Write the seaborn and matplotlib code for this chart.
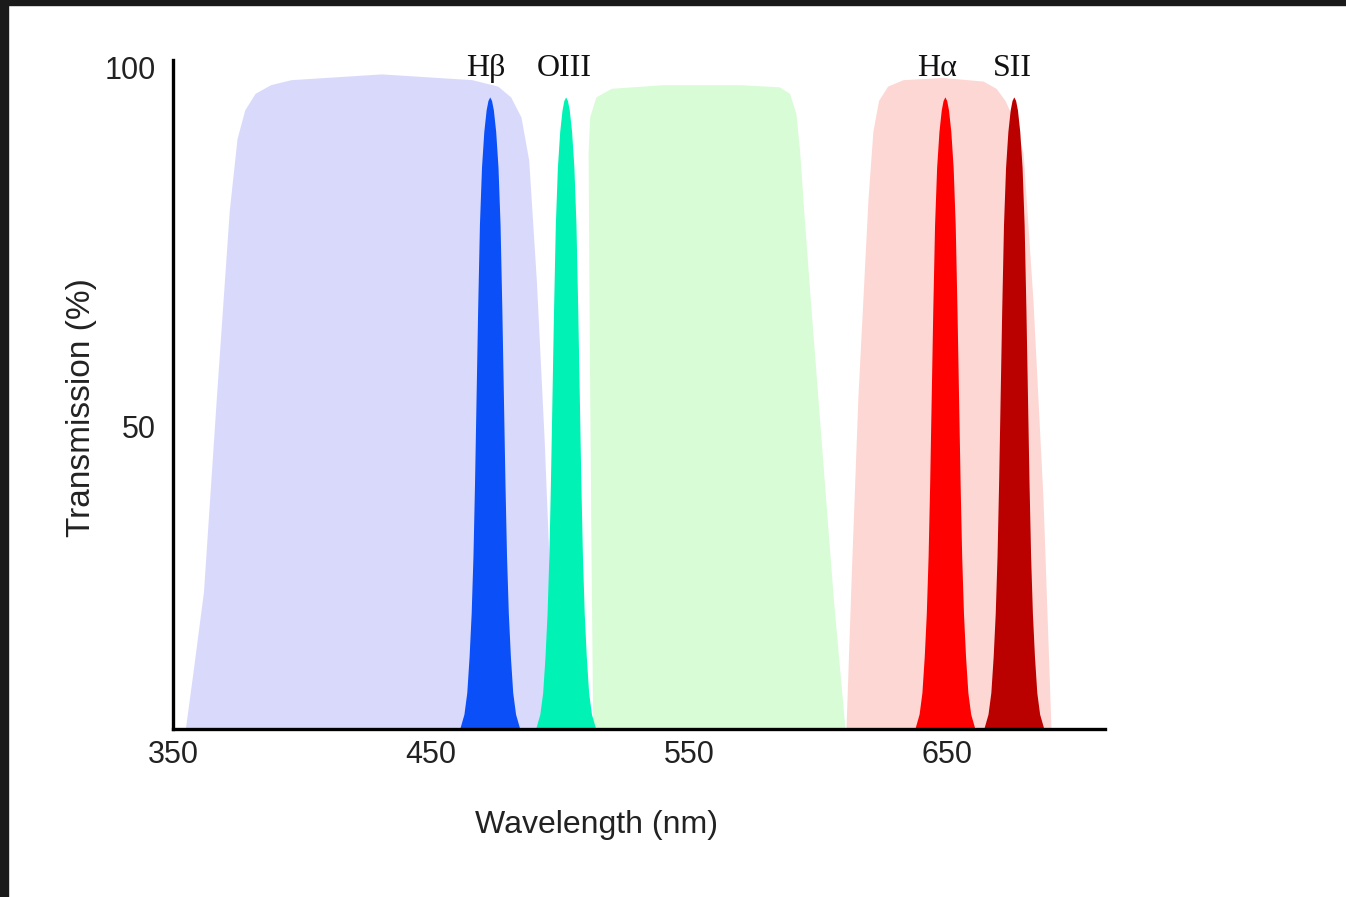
import matplotlib
matplotlib.use("Agg")
import matplotlib.pyplot as plt
import seaborn as sns
from matplotlib.patches import Rectangle

# broad filter bands (outline traced bottom-left -> top -> bottom-right)
blue_nm = [355, 358, 362, 367, 372, 375, 378, 382, 388, 396, 431, 466, 476, 481, 485, 488, 491, 494, 496, 498]
blue_t = [8, 16, 27, 54, 80, 90, 94, 96.3, 97.5, 98.2, 99, 98.2, 97.3, 95.8, 93, 87, 70, 48, 30, 8]

green_nm = [512.8, 512.2, 511.5, 511.0, 511.6, 514, 520, 540, 570, 585, 589, 591.5, 593, 594.5, 597, 600, 603, 606, 610.5]
green_t = [8, 30, 60, 88, 93, 95.8, 97, 97.5, 97.5, 97.2, 96.3, 93.5, 88, 80, 68, 54, 40, 26, 8]

red_nm = [610.9, 613, 615.5, 619.4, 621.3, 623.5, 627, 633, 648.4, 664, 669, 672.5, 676, 679.5, 683.3, 687.2, 690.3]
red_t = [8, 30, 54, 81.5, 91, 95.3, 97.3, 98.2, 98.5, 98, 97, 95.3, 92.5, 88, 67.6, 40, 8]

# narrowband lines
peak_t = [8, 10, 13, 18, 24, 32, 42, 54, 66, 78, 86, 91, 94, 95.3, 95.8,
          95.3, 94, 91, 86, 78, 66, 54, 42, 32, 24, 18, 13, 10, 8]
hb_nm = [461.3, 462.9, 464.0, 464.9, 465.7, 466.4, 467.0, 467.6, 468.2, 468.9, 469.7, 470.6, 471.5, 472.2, 472.9,
         473.6, 474.3, 475.2, 476.1, 476.9, 477.6, 478.2, 478.8, 479.4, 480.1, 480.9, 481.8, 482.9, 484.5]
oiii_nm = [490.7, 492.3, 493.4, 494.3, 495.1, 495.8, 496.4, 497.0, 497.6, 498.3, 499.1, 500.0, 500.9, 501.6, 502.3,
           503.0, 503.7, 504.6, 505.5, 506.3, 507.0, 507.6, 508.2, 508.8, 509.5, 510.3, 511.2, 512.3, 513.9]
ha_nm = [637.6, 639.2, 640.3, 641.2, 642.0, 642.7, 643.3, 643.9, 644.5, 645.2, 646.0, 646.9, 647.8, 648.5, 649.2,
         649.9, 650.6, 651.5, 652.4, 653.2, 653.9, 654.5, 655.1, 655.7, 656.4, 657.2, 658.1, 659.2, 660.8]
sii_nm = [664.3, 665.9, 667.0, 667.9, 668.7, 669.4, 670.0, 670.6, 671.2, 671.9, 672.7, 673.6, 674.5, 675.2, 675.9,
          676.6, 677.3, 678.2, 679.1, 679.9, 680.6, 681.2, 681.8, 682.4, 683.1, 683.9, 684.8, 685.9, 687.5]

line_labels = ["Hβ", "OIII", "Hα", "SII"]
label_nm = [471.3, 501.5, 645.8, 675.0]
x_ticks = [350, 450, 550, 650]
y_ticks = [50, 100]

sns.set_theme(style="white")
plt.rcParams["font.family"] = ["Liberation Sans", "DejaVu Sans"]

fig = plt.figure(figsize=(13.46, 8.97), dpi=100)
ax = fig.add_axes([0.1285, 0.1873, 0.6924, 0.7458])

ax.fill(blue_nm, blue_t, color="#d9dafb", lw=0)
ax.fill(green_nm, green_t, color="#d8fcd6", lw=0)
ax.fill(red_nm, red_t, color="#fdd7d4", lw=0)

ax.fill(hb_nm, peak_t, color="#0a4ff8", lw=0)
ax.fill(oiii_nm, peak_t, color="#00f2b4", lw=0)
ax.fill(ha_nm, peak_t, color="#ff0000", lw=0)
ax.fill(sii_nm, peak_t, color="#bb0000", lw=0)

for lab, x in zip(line_labels, label_nm):
    ax.text(x, 99.8, lab, ha="center", va="center", fontsize=23,
            family=["Liberation Serif", "DejaVu Serif"], color="#111111", clip_on=False)

ax.set_xlim(350, 711)
ax.set_ylim(8, 101)
ax.set_xticks(x_ticks)
ax.set_yticks(y_ticks)
ax.tick_params(axis="both", length=0, labelsize=22, colors="#222222")
ax.tick_params(axis="x", pad=8)
ax.tick_params(axis="y", pad=12)
ax.set_xlabel("Wavelength (nm)", fontsize=23, color="#222222")
ax.set_ylabel("Transmission (%)", fontsize=24, color="#222222")
ax.xaxis.set_label_coords(0.454, -0.121)
ax.yaxis.set_label_coords(-0.081, 0.48)

sns.despine(ax=ax)
for side in ["left", "bottom"]:
    ax.spines[side].set_color("black")
    ax.spines[side].set_linewidth(2.4)

# dark frame strips from the screenshot
fig.patches.append(Rectangle((0, 0), 8 / 1346, 1, transform=fig.transFigure, color="#1a1a1a", zorder=10))
fig.patches.append(Rectangle((0, 1 - 5 / 897), 1, 5 / 897, transform=fig.transFigure, color="#1a1a1a", zorder=10))

fig.savefig("out.png", dpi=100, facecolor="white")
